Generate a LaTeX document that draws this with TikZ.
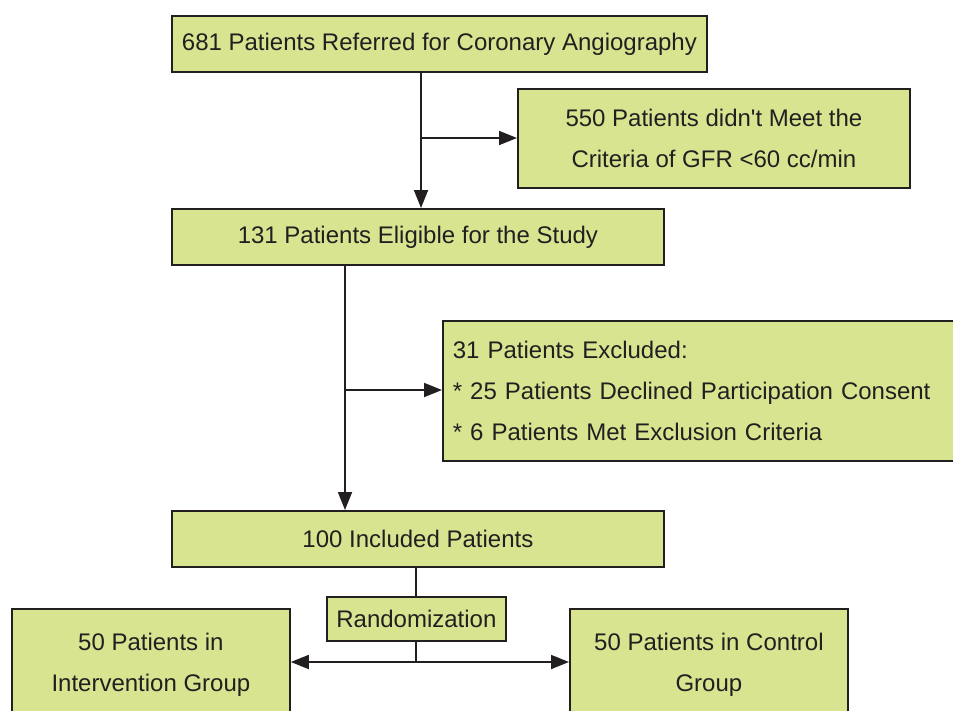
\documentclass[tikz,border=0pt]{standalone}
\usepackage{fontspec}
\setmainfont{Liberation Sans}[Ligatures=TeXOff]
\usetikzlibrary{arrows.meta}
\definecolor{boxfill}{RGB}{217,228,145}
\definecolor{ink}{RGB}{35,31,32}
\tikzset{
  fbox/.style={draw=ink, fill=boxfill, line width=1.8pt, anchor=north west,
    text=ink, align=center, inner sep=0pt,
    font=\fontsize{24}{41}\selectfont},
  conn/.style={draw=ink, line width=1.8pt},
  arr/.style={conn, -{Triangle[length=18pt,width=14pt]}},
  darr/.style={conn, {Triangle[length=18pt,width=14pt]}-{Triangle[length=18pt,width=14pt]}}
}
\begin{document}
\begin{tikzpicture}[x=1pt,y=-1pt]
\useasboundingbox (0,0) rectangle (953,710);
\node[fbox, minimum width=535pt, minimum height=56pt] (b1) at (171,15) {681 Patients Referred for Coronary Angiography};
\node[fbox, minimum width=392pt, minimum height=99pt] (b2) at (517,88) {550 Patients didn't Meet the\\Criteria of GFR <60 cc/min};
\node[fbox, minimum width=492pt, minimum height=56pt] (b3) at (171,208) {131 Patients Eligible for the Study};
\node[fbox, minimum height=140pt, text width=510pt, inner xsep=10pt, align=left] (b4) at (442,320) {31 Patients Excluded:\\{*} 25 Patients Declined Participation Consent\\{*} 6 Patients Met Exclusion Criteria};
\node[fbox, minimum width=492pt, minimum height=56pt] (b5) at (171,510) {100 Included Patients};
\node[fbox, minimum width=179pt, minimum height=44pt] (r) at (326,596) {Randomization};
\node[fbox, minimum width=278pt, minimum height=112pt] (gl) at (11,608) {50 Patients in\\Intervention Group};
\node[fbox, minimum width=278pt, minimum height=112pt] (gr) at (569,608) {50 Patients in Control\\Group};
\coordinate (j1) at (421,138);
\coordinate (j2) at (345,390);
\coordinate (j3) at (416,662);
\draw[arr] (b1.south -| j1) -- (b3.north -| j1);
\draw[arr] (j1) -- (b2.west |- j1);
\draw[arr] (b3.south -| j2) -- (b5.north -| j2);
\draw[arr] (j2) -- (b4.west |- j2);
\draw[conn, line width=1.3pt] (b5.south -| j3) -- (r.north -| j3);
\draw[conn, line width=1.3pt] (r.south -| j3) -- (j3);
\draw[darr] (gl.east |- j3) -- (gr.west |- j3);
\end{tikzpicture}
\end{document}
